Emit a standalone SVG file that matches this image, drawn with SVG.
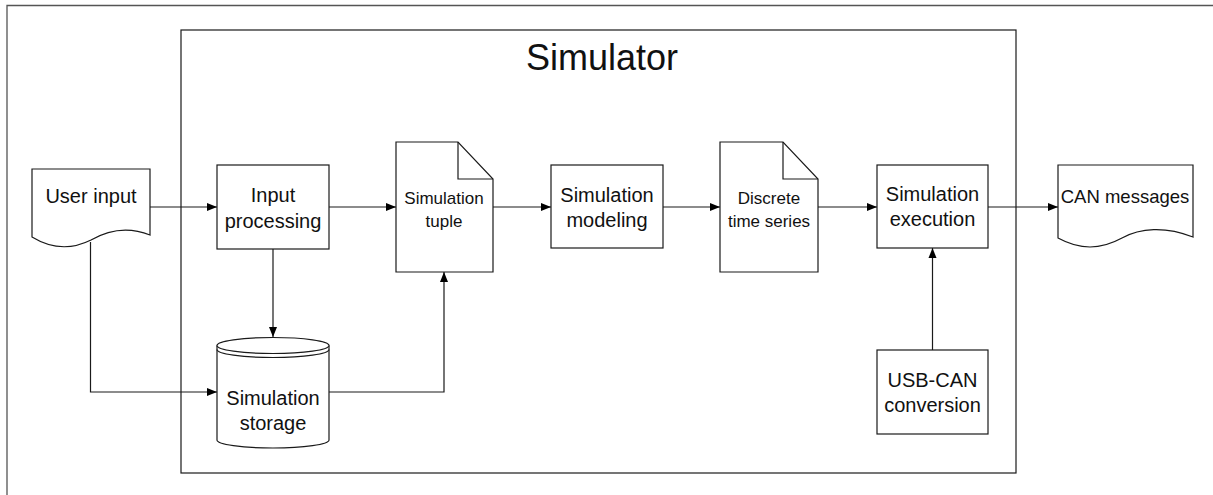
<svg xmlns="http://www.w3.org/2000/svg" width="1213" height="495" viewBox="0 0 1213 495">
<defs>
<style>
.shape{fill:#fff;stroke:#1a1a1a;stroke-width:1.2}
.frame{fill:none;stroke:#555;stroke-width:1.3}
.box{fill:none;stroke:#1a1a1a;stroke-width:1.2}
.conn{fill:none;stroke:#1a1a1a;stroke-width:1.2}
text{font-family:"Liberation Sans",Arial,sans-serif;fill:#111;text-anchor:middle}
.t20{font-size:20px}
.t17{font-size:17px}
.t18{font-size:18.5px}
</style>
<marker id="arr" viewBox="0 0 10 10" refX="10" refY="5" markerWidth="10" markerHeight="10" markerUnits="userSpaceOnUse" orient="auto">
<path d="M0,1 L10,5 L0,9 Z" fill="#000"/>
</marker>
</defs>
<rect x="0" y="0" width="1213" height="495" fill="#fff"/>
<g id="outer-frame"><path class="frame" d="M7,500 V5.5 H1220"/></g>
<g id="simulator">
<rect class="box" x="181" y="30" width="835" height="443"/>
<text x="602" y="70" style="font-size:36px">Simulator</text>
</g>
<g id="connectors">
<path class="conn" d="M150,207 H217" marker-end="url(#arr)"/>
<path class="conn" d="M329,207 H396" marker-end="url(#arr)"/>
<path class="conn" d="M493,207 H551" marker-end="url(#arr)"/>
<path class="conn" d="M663,207 H720" marker-end="url(#arr)"/>
<path class="conn" d="M818,207 H877" marker-end="url(#arr)"/>
<path class="conn" d="M988,207 H1058" marker-end="url(#arr)"/>
<path class="conn" d="M273,249 V337" marker-end="url(#arr)"/>
<path class="conn" d="M90.5,242 V392 H217" marker-end="url(#arr)"/>
<path class="conn" d="M329,392 H444 V272" marker-end="url(#arr)"/>
<path class="conn" d="M932.5,350 V248" marker-end="url(#arr)"/>
</g>
<g id="user-input">
<path class="shape" d="M32,169 H150 V235 C130,227 110,229 91,240 C75,248 55,251 32,237 Z"/>
<text class="t20" x="91" y="203">User input</text>
</g>
<g id="input-processing">
<rect class="shape" x="217" y="165" width="112" height="84"/>
<text class="t20" x="273" y="202">Input</text>
<text class="t20" x="273" y="228">processing</text>
</g>
<g id="simulation-storage">
<path class="shape" d="M217,345.5 V440 A56,8 0 0 0 329,440 V345.5"/>
<ellipse class="shape" cx="273" cy="345.5" rx="56" ry="8"/>
<path class="box" d="M217,349.5 A56,8 0 0 0 329,349.5"/>
<text class="t20" x="273" y="405">Simulation</text>
<text class="t20" x="273" y="430">storage</text>
</g>
<g id="simulation-tuple">
<path class="shape" d="M396,142 H458 L493,179 V272 H396 Z"/>
<path class="box" d="M458,142 V179 H493"/>
<text class="t17" x="444" y="204">Simulation</text>
<text class="t17" x="444" y="227">tuple</text>
</g>
<g id="simulation-modeling">
<rect class="shape" x="551" y="165" width="112" height="83"/>
<text class="t20" x="607" y="202">Simulation</text>
<text class="t20" x="607" y="227">modeling</text>
</g>
<g id="discrete-time-series">
<path class="shape" d="M720,142 H783 L818,179 V272 H720 Z"/>
<path class="box" d="M783,142 V179 H818"/>
<text class="t17" x="769" y="204">Discrete</text>
<text class="t17" x="769" y="227">time series</text>
</g>
<g id="simulation-execution">
<rect class="shape" x="877" y="165" width="111" height="83"/>
<text class="t20" x="932.5" y="201">Simulation</text>
<text class="t20" x="932.5" y="226">execution</text>
</g>
<g id="usb-can-conversion">
<rect class="shape" x="877" y="350" width="111" height="84"/>
<text class="t20" x="932.5" y="387">USB-CAN</text>
<text class="t20" x="932.5" y="412">conversion</text>
</g>
<g id="can-messages">
<path class="shape" d="M1058,165 H1193 V237 C1165,226 1140,228 1122,238 C1100,250 1080,250 1058,238 Z"/>
<text class="t18" x="1125" y="203">CAN messages</text>
</g>
</svg>
